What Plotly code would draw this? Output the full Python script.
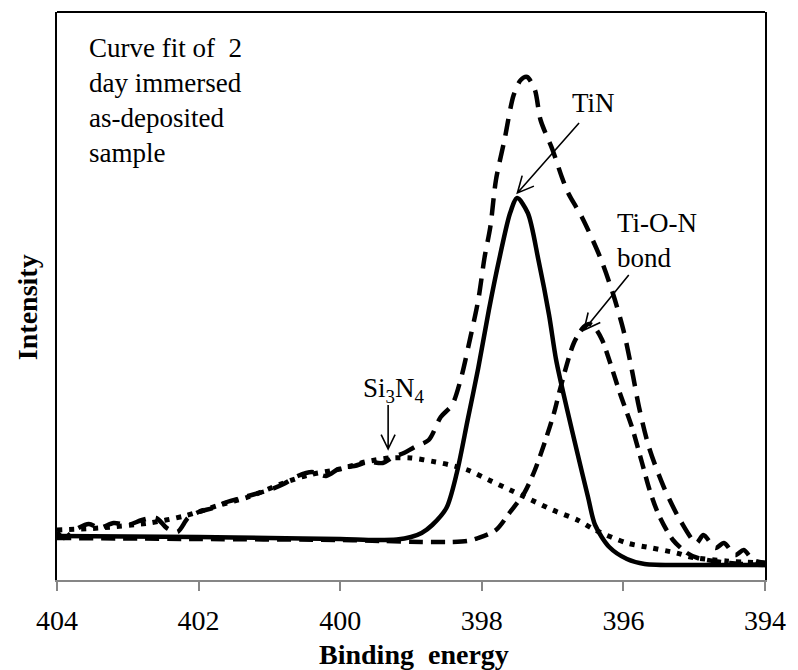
import math
import plotly.graph_objects as go

# ---------------- data ----------------
tick_vals = [404, 402, 400, 398, 396, 394]

# Envelope (long dashed)
env_x = [404.0, 403.9, 403.75, 403.55, 403.4, 403.2, 403.0, 402.8, 402.6, 402.45, 402.3, 402.15,
         402.0, 401.8, 401.6, 401.4, 401.2, 401.0, 400.8, 400.6, 400.4, 400.2, 400.0, 399.8,
         399.6, 399.4, 399.25, 399.1, 398.95, 398.75, 398.58, 398.42, 398.3, 398.16, 398.05,
         397.96, 397.88, 397.8, 397.68, 397.55, 397.45, 397.36, 397.25, 397.17, 397.0, 396.87,
         396.78, 396.58, 396.33, 396.15, 396.0, 395.88, 395.78, 395.64, 395.43, 395.2, 394.97,
         394.87, 394.7, 394.58, 394.42, 394.3, 394.17, 394.0]
env_y = [48, 42, 50, 56, 52, 57, 55, 60, 62, 52, 48, 62,
         68, 72, 78, 82, 86, 90, 96, 104, 108, 104, 112, 114,
         118, 117, 123, 127, 133, 140, 163, 175, 200, 243, 280,
         323, 353, 400, 440, 485, 500, 503, 490, 460, 430, 403,
         387, 362, 323, 287, 250, 210, 173, 133, 93, 60, 37,
         45, 32, 37, 25, 30, 20, 17]

# TiN component (solid)
tin_x = [404.0, 403.0, 402.0, 401.0, 400.0, 399.5, 399.2, 399.0, 398.85, 398.7, 398.5, 398.35,
         398.2, 398.05, 397.9, 397.75, 397.6, 397.5, 397.35, 397.2, 397.05, 396.95, 396.8,
         396.65, 396.5, 396.4, 396.2, 395.95, 395.7, 395.0, 394.0]
tin_y = [44, 43.5, 43, 42, 41, 40, 40.5, 43, 47, 55, 72, 108,
         160, 212, 270, 322, 367, 382, 367, 320, 265, 220, 172,
         127, 83, 55, 33, 21, 16, 15, 15]

# Ti-O-N component (short dashed)
tion_x = [404.0, 402.0, 400.0, 399.4, 398.85, 398.45, 398.2, 398.05, 397.8, 397.6, 397.4,
          397.25, 397.1, 396.98, 396.89, 396.7, 396.56, 396.48, 396.4, 396.3, 396.2, 396.05,
          395.88, 395.74, 395.63, 395.5, 395.3, 395.1, 394.95, 394.5, 394.0]
tion_y = [42, 41, 40, 39, 38, 38, 39, 42, 50, 68, 87,
          110, 140, 167, 192, 237, 253, 256, 252, 240, 220, 187,
          153, 118, 90, 65, 40, 27, 22, 17, 15]

# Si3N4 component (dotted)
si_x = [404.0, 403.4, 402.7, 402.2, 401.7, 401.3, 400.8, 400.45, 400.0, 399.65, 399.3, 399.0,
        398.65, 398.45, 398.2, 397.9, 397.6, 397.3, 397.0, 396.65, 396.4, 395.95, 395.6,
        395.25, 395.05, 394.55, 394.0]
si_y = [50, 52, 57, 64, 75, 83, 97, 105, 111, 118, 122, 122,
        118, 115, 110, 100, 90, 80, 70, 60, 50, 37, 32,
        27, 23, 19, 17]

# ---------------- layout geometry ----------------
W, H = 798, 670
L, R, T, B = 57, 769, 12, 580
SERIF = '"Liberation Serif"'


def px2paper(px, py):
    return (px - L) / (R - L), (B - py) / (B - T)


fig = go.Figure()
fig.add_trace(go.Scatter(x=si_x, y=si_y, mode="lines",
                         line=dict(color="black", width=5, dash="5px,7px", shape="spline", smoothing=0.8),
                         hoverinfo="skip", showlegend=False))
fig.add_trace(go.Scatter(x=tion_x, y=tion_y, mode="lines",
                         line=dict(color="black", width=4.5, dash="14px,8px", shape="spline", smoothing=0.8),
                         hoverinfo="skip", showlegend=False))
fig.add_trace(go.Scatter(x=env_x, y=env_y, mode="lines",
                         line=dict(color="black", width=4.5, dash="17px,10px", shape="spline", smoothing=0.8),
                         hoverinfo="skip", showlegend=False))
fig.add_trace(go.Scatter(x=tin_x, y=tin_y, mode="lines",
                         line=dict(color="black", width=4.5, shape="spline", smoothing=0.8),
                         hoverinfo="skip", showlegend=False))

annotations = []


def text_ann(text, px, py, size, xanchor="center", yanchor="middle", angle=0, align="center"):
    x, y = px2paper(px, py)
    annotations.append(dict(text=text, x=x, y=y, xref="paper", yref="paper",
                            xanchor=xanchor, yanchor=yanchor, showarrow=False,
                            textangle=angle, align=align,
                            font=dict(family=SERIF, size=size, color="black")))


text_ann("Curve fit of\u00a0\u00a02<br>day immersed<br>as-deposited<br>sample", 87, 100, 27,
         xanchor="left", align="left")
text_ann("TiN", 597, 103, 27)
text_ann("Ti-O-N<br>bond", 618, 240, 27, xanchor="left", align="left")
text_ann("Si<sub>3</sub>N<sub>4</sub>", 395, 390, 27)
text_ann("<b>Binding\u00a0\u00a0energy</b>", 416, 654, 28)
text_ann("<b>Intensity</b>", 28, 307, 28, angle=-90)

shapes = []


def arrow(x0, y0, x1, y1, head=16, ang=26):
    dx, dy = x0 - x1, y0 - y1
    d = math.hypot(dx, dy)
    ux, uy = dx / d, dy / d
    pts = []
    for s in (-1, 1):
        a = math.radians(ang) * s
        bx = x1 + head * (ux * math.cos(a) - uy * math.sin(a))
        by = y1 + head * (ux * math.sin(a) + uy * math.cos(a))
        pts.append((bx, by))

    def P(px, py):
        X, Y = px2paper(px, py)
        return f"{X:.5f},{Y:.5f}"
    path = (f"M {P(x0, y0)} L {P(x1, y1)} "
            f"M {P(*pts[0])} L {P(x1, y1)} L {P(*pts[1])}")
    shapes.append(dict(type="path", path=path, xref="paper", yref="paper",
                       line=dict(color="black", width=1.6)))


arrow(582, 123, 520, 193, head=18)
arrow(632, 275, 587, 330, head=18)
arrow(390, 405, 390, 449, head=16)

# top border of plot area
shapes.append(dict(type="line", xref="paper", yref="paper", x0=0, x1=1, y0=1, y1=1,
                   line=dict(color="black", width=2)))

fig.update_layout(
    width=W, height=H,
    margin=dict(l=L, r=W - R, t=T, b=H - B),
    paper_bgcolor="white", plot_bgcolor="white",
    showlegend=False,
    font=dict(family=SERIF),
    annotations=annotations,
    shapes=shapes,
    xaxis=dict(range=[404, 394], tickvals=tick_vals, ticktext=[str(v) for v in tick_vals],
               ticks="outside", ticklen=9, tickwidth=1.5, tickcolor="#868686",
               ticklabelstandoff=6,
               showline=True, linecolor="#868686", linewidth=1.5,
               showgrid=False, zeroline=False,
               tickfont=dict(family=SERIF, size=28, color="black")),
    yaxis=dict(range=[0, 568], showticklabels=False, ticks="",
               showline=True, linecolor="black", linewidth=2, mirror=True,
               showgrid=False, zeroline=False),
)

fig.write_html("out.html")
